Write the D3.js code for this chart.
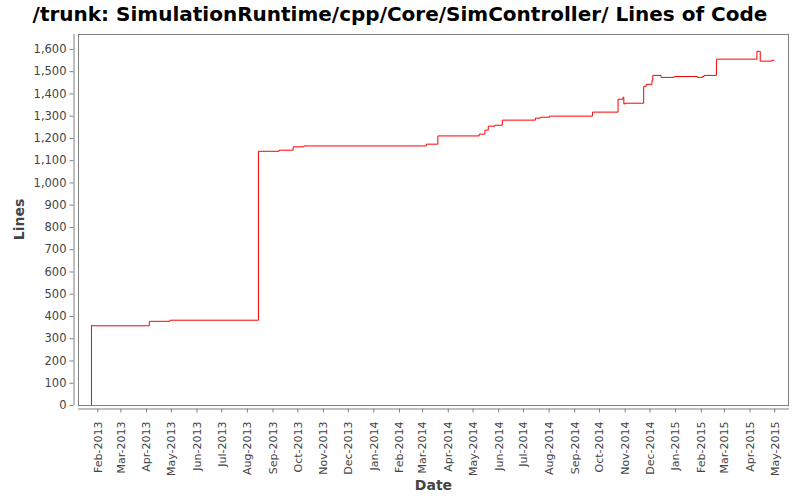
<!DOCTYPE html>
<html>
<head>
<meta charset="utf-8">
<script src="https://cdn.jsdelivr.net/npm/d3@7"></script>
<style>
  html, body { margin: 0; padding: 0; background: #ffffff; }
  svg { display: block; }
</style>
</head>
<body>
<svg id="chart" width="800" height="500"></svg>
<script>
const titleText = "/trunk: SimulationRuntime/cpp/Core/SimController/ Lines of Code";
const xLabel = "Date";
const yLabel = "Lines";

const dates = [
  "2013-01-25", "2013-01-26", "2013-04-05", "2013-04-30", "2013-08-15",
  "2013-09-09", "2013-09-26", "2013-10-09", "2014-03-06", "2014-03-20",
  "2014-05-09", "2014-05-16", "2014-05-20", "2014-05-28", "2014-06-06",
  "2014-07-16", "2014-07-22", "2014-08-02", "2014-09-23", "2014-10-24",
  "2014-10-30", "2014-10-31", "2014-11-01", "2014-11-24", "2014-11-27",
  "2014-12-04", "2014-12-05", "2014-12-15", "2014-12-31", "2015-01-28",
  "2015-02-03", "2015-02-05", "2015-02-20", "2015-04-10", "2015-04-14",
  "2015-04-28", "2015-05-01"
];
const lines = [
  358, 356, 376, 381, 1140,
  1145, 1160, 1164, 1172, 1209,
  1217, 1235, 1253, 1257, 1280,
  1289, 1293, 1298, 1316, 1374,
  1383, 1352, 1356, 1432, 1441,
  1459, 1481, 1472, 1476, 1472,
  1476, 1481, 1554, 1589, 1545,
  1549, 1549
];
const yTicks = [0,100,200,300,400,500,600,700,800,900,1000,1100,1200,1300,1400,1500,1600];
const xDomain = ["2013-01-08T17:00", "2015-05-18T19:00"];
const yDomain = [0, 1667];

const parse = d3.utcParse("%Y-%m-%d");
const parseT = d3.utcParse("%Y-%m-%dT%H:%M");
const data = dates.map((d, i) => ({ date: parse(d), value: lines[i] }));
// start from zero at first commit
const series = [{ date: data[0].date, value: 0 }].concat(data);

const svg = d3.select("#chart");
const plot = { left: 78, right: 789, top: 34, bottom: 405 };

const x = d3.scaleUtc().domain(xDomain.map(parseT)).range([plot.left, plot.right]);
const y = d3.scaleLinear().domain(yDomain).range([plot.bottom, plot.top]);

const font = "'DejaVu Sans', sans-serif";
const tickColor = "#444444";
const axisColor = "#808080";

// title
svg.append("text")
  .attr("x", 400).attr("y", 21)
  .attr("text-anchor", "middle")
  .attr("font-family", font).attr("font-weight", "bold").attr("font-size", 20)
  .attr("fill", "#000")
  .text(titleText);

// plot border
svg.append("rect")
  .attr("x", plot.left + 0.5).attr("y", plot.top + 0.5)
  .attr("width", plot.right - plot.left - 1).attr("height", plot.bottom - plot.top)
  .attr("fill", "#fff").attr("stroke", axisColor).attr("stroke-width", 1);

// y axis
const yAxis = d3.axisLeft(y).tickValues(yTicks).tickFormat(d3.format(",")).tickSize(4).tickPadding(3);
const gy = svg.append("g").attr("transform", `translate(${plot.left - 4.5},0)`).call(yAxis);
gy.select(".domain").attr("stroke", axisColor).attr("d", `M0.5,${plot.top}V${plot.bottom}`);
gy.selectAll(".tick line").attr("stroke", axisColor);
gy.selectAll(".tick text").attr("fill", tickColor).attr("font-family", font).attr("font-size", 11.5);

// x axis
const xAxis = d3.axisBottom(x).ticks(d3.utcMonth.every(1)).tickFormat(d3.utcFormat("%b-%Y")).tickSize(4).tickPadding(3);
const gx = svg.append("g").attr("transform", `translate(0,${plot.bottom + 3.5})`).call(xAxis);
gx.select(".domain").attr("stroke", axisColor).attr("d", `M${plot.left},0.5H${plot.right}`);
gx.selectAll(".tick line").attr("stroke", axisColor);
gx.selectAll(".tick text")
  .attr("fill", tickColor).attr("font-family", font).attr("font-size", 11)
  .attr("transform", "rotate(-90)")
  .attr("text-anchor", "end")
  .attr("x", -13).attr("y", 0).attr("dy", "0.35em");

// axis labels
svg.append("text")
  .attr("x", (plot.left + plot.right) / 2).attr("y", 490)
  .attr("text-anchor", "middle")
  .attr("font-family", font).attr("font-weight", "bold").attr("font-size", 14)
  .attr("fill", tickColor)
  .text(xLabel);
svg.append("text")
  .attr("transform", `translate(24,${(plot.top + plot.bottom) / 2}) rotate(-90)`)
  .attr("text-anchor", "middle")
  .attr("font-family", font).attr("font-weight", "bold").attr("font-size", 14)
  .attr("fill", tickColor)
  .text(yLabel);

// line
const line = d3.line().x(d => x(d.date)).y(d => y(d.value)).curve(d3.curveStepAfter);
svg.append("path")
  .datum(series)
  .attr("d", line)
  .attr("fill", "none")
  .attr("stroke", "#ff0000")
  .attr("stroke-width", 1);
</script>
</body>
</html>
